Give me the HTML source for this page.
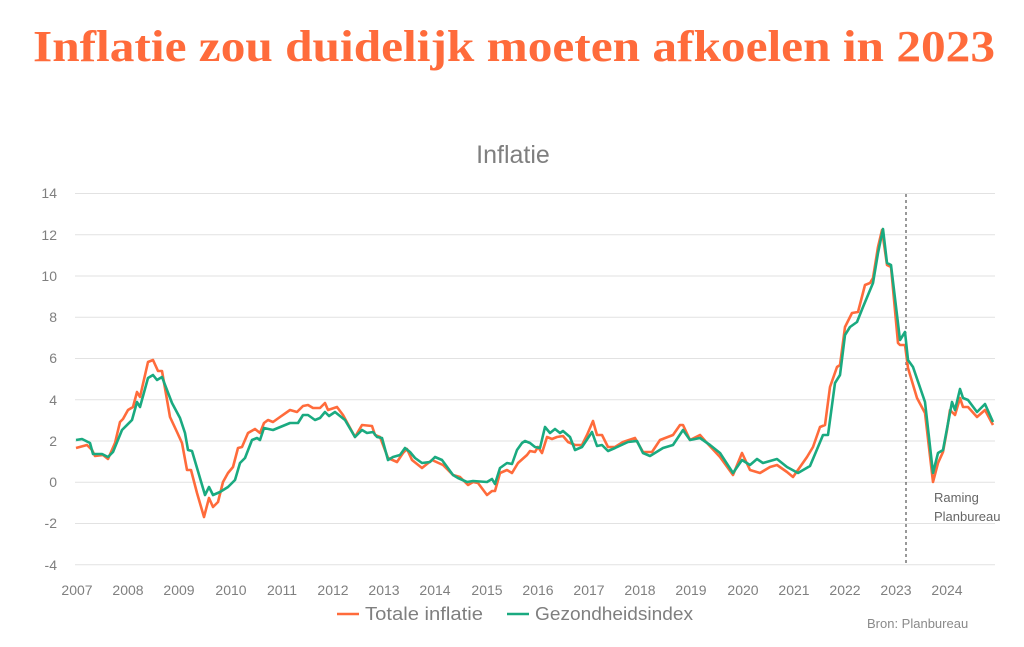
<!DOCTYPE html>
<html><head><meta charset="utf-8">
<style>
html,body{margin:0;padding:0;background:#fff;}
svg{display:block;}
text{font-family:"Liberation Sans",sans-serif;}
text.ttl{font-family:"Liberation Serif",serif;}
</style></head><body>
<svg width="1024" height="647" viewBox="0 0 1024 647" xmlns="http://www.w3.org/2000/svg">
<text class="ttl" x="33" y="61" style="font-family:'Liberation Serif',serif;font-weight:bold" font-size="44" fill="#ff6b3b" textLength="962" lengthAdjust="spacingAndGlyphs">Inflatie zou duidelijk moeten afkoelen in 2023</text>
<text x="513" y="163" text-anchor="middle" font-size="25" fill="#7f7f7f">Inflatie</text>
<g stroke="#e2e2e2" stroke-width="1">
<line x1="75" x2="995" y1="193.5" y2="193.5"/>
<line x1="75" x2="995" y1="234.8" y2="234.8"/>
<line x1="75" x2="995" y1="276" y2="276"/>
<line x1="75" x2="995" y1="317.3" y2="317.3"/>
<line x1="75" x2="995" y1="358.5" y2="358.5"/>
<line x1="75" x2="995" y1="399.8" y2="399.8"/>
<line x1="75" x2="995" y1="441" y2="441"/>
<line x1="75" x2="995" y1="482.3" y2="482.3"/>
<line x1="75" x2="995" y1="523.5" y2="523.5"/>
<line x1="75" x2="995" y1="564.8" y2="564.8"/>
</g>
<g font-size="14" fill="#7f7f7f" text-anchor="end">
<text x="57" y="198">14</text><text x="57" y="240">12</text><text x="57" y="281">10</text>
<text x="57" y="322">8</text><text x="57" y="363">6</text><text x="57" y="405">4</text>
<text x="57" y="446">2</text><text x="57" y="487">0</text><text x="57" y="528">-2</text>
<text x="57" y="570">-4</text>
</g>
<g font-size="14" fill="#7f7f7f" text-anchor="middle">
<text x="77" y="595">2007</text><text x="128" y="595">2008</text><text x="179" y="595">2009</text>
<text x="231" y="595">2010</text><text x="282" y="595">2011</text><text x="333" y="595">2012</text>
<text x="384" y="595">2013</text><text x="435" y="595">2014</text><text x="487" y="595">2015</text>
<text x="538" y="595">2016</text><text x="589" y="595">2017</text><text x="640" y="595">2018</text>
<text x="691" y="595">2019</text><text x="743" y="595">2020</text><text x="794" y="595">2021</text>
<text x="845" y="595">2022</text><text x="896" y="595">2023</text><text x="947" y="595">2024</text>
</g>
<line x1="906" x2="906" y1="194" y2="565" stroke="#333" stroke-width="1" stroke-dasharray="3,3"/>
<text x="934" y="502" font-size="13" fill="#666">Raming</text>
<text x="934" y="521" font-size="13" fill="#666">Planbureau</text>
<polyline fill="none" stroke="#ff6b3b" stroke-width="2.6" stroke-linejoin="round" points="76,448 87,445 92,450 95,456 103,455 108,459 115,443 120,422 123,419 128,410 133,407 137,392 140,397 148,362 153,360 158,371 162,371 170,417 177,432 182,443 187,470 191,470 197,493 204,517 209,498 213,507 218,502 223,482 228,473 233,467 238,448 242,447 248,433 255,429 260,433 264,423 268,420 273,422 280,417 290,410 297,412 303,406 308,405 313,408 320,408 325,403 328,410 337,407 343,415 355,437 362,425 372,426 375,435 380,437 388,458 397,462 403,453 407,449 412,460 422,468 432,460 443,465 453,475 460,477 468,485 473,482 478,483 487,495 492,491 495,491 500,473 507,470 512,473 518,463 527,455 530,451 535,452 538,447 542,453 547,437 552,439 557,437 563,436 568,442 575,445 582,445 587,435 593,421 597,435 602,435 608,447 615,447 623,442 635,438 643,452 652,452 660,440 673,435 680,425 683,425 690,440 700,435 707,443 720,457 733,475 742,453 750,470 760,473 770,467 777,465 787,472 793,477 807,457 813,447 820,427 825,425 830,387 837,367 840,365 845,327 852,313 858,312 865,285 870,283 873,278 878,247 882,230 887,265 891,267 898,343 900,345 905,345 908,368 917,398 925,413 933,482 938,463 943,452 947,430 950,410 955,415 960,398 963,407 968,407 977,417 985,410 993,425"/>
<polyline fill="none" stroke="#1aaa80" stroke-width="2.6" stroke-linejoin="round" points="76,440 82,439 90,443 93,454 102,454 108,457 113,452 122,430 132,420 137,402 140,407 148,378 153,375 157,380 162,377 172,403 180,418 185,433 188,450 192,451 205,495 209,487 213,495 220,492 228,487 235,480 240,463 245,458 252,440 257,438 260,440 264,428 273,430 290,423 298,423 303,415 308,415 315,420 320,418 325,412 329,416 335,412 345,420 355,437 362,430 367,433 373,432 377,437 382,438 388,460 393,457 400,455 405,448 410,452 415,458 422,463 430,462 435,457 442,460 453,475 458,478 467,482 473,481 487,482 492,479 495,484 500,468 507,463 512,464 517,450 522,443 525,441 530,443 535,447 540,448 545,427 550,433 555,429 560,433 563,431 570,437 575,450 582,447 592,432 597,446 602,445 608,451 615,448 628,442 637,441 643,453 650,456 663,448 673,445 683,430 690,440 700,438 710,445 720,453 733,473 742,460 750,465 757,459 763,463 777,459 787,467 798,473 810,466 818,447 823,435 828,435 835,383 840,375 845,335 850,327 857,322 863,307 873,283 878,253 883,229 887,263 891,265 900,340 905,332 908,360 913,367 925,402 933,473 938,453 943,450 952,402 955,410 960,389 963,398 968,400 977,412 985,404 993,422"/>
<line x1="337" x2="359" y1="614" y2="614" stroke="#ff6b3b" stroke-width="2.6"/>
<text x="365" y="620" font-size="18" fill="#7f7f7f" textLength="118" lengthAdjust="spacingAndGlyphs">Totale inflatie</text>
<line x1="507" x2="529" y1="614" y2="614" stroke="#1aaa80" stroke-width="2.6"/>
<text x="535" y="620" font-size="18" fill="#7f7f7f" textLength="158" lengthAdjust="spacingAndGlyphs">Gezondheidsindex</text>
<text x="867" y="628" font-size="13" fill="#8a8a8a">Bron: Planbureau</text>
</svg>
</body></html>
